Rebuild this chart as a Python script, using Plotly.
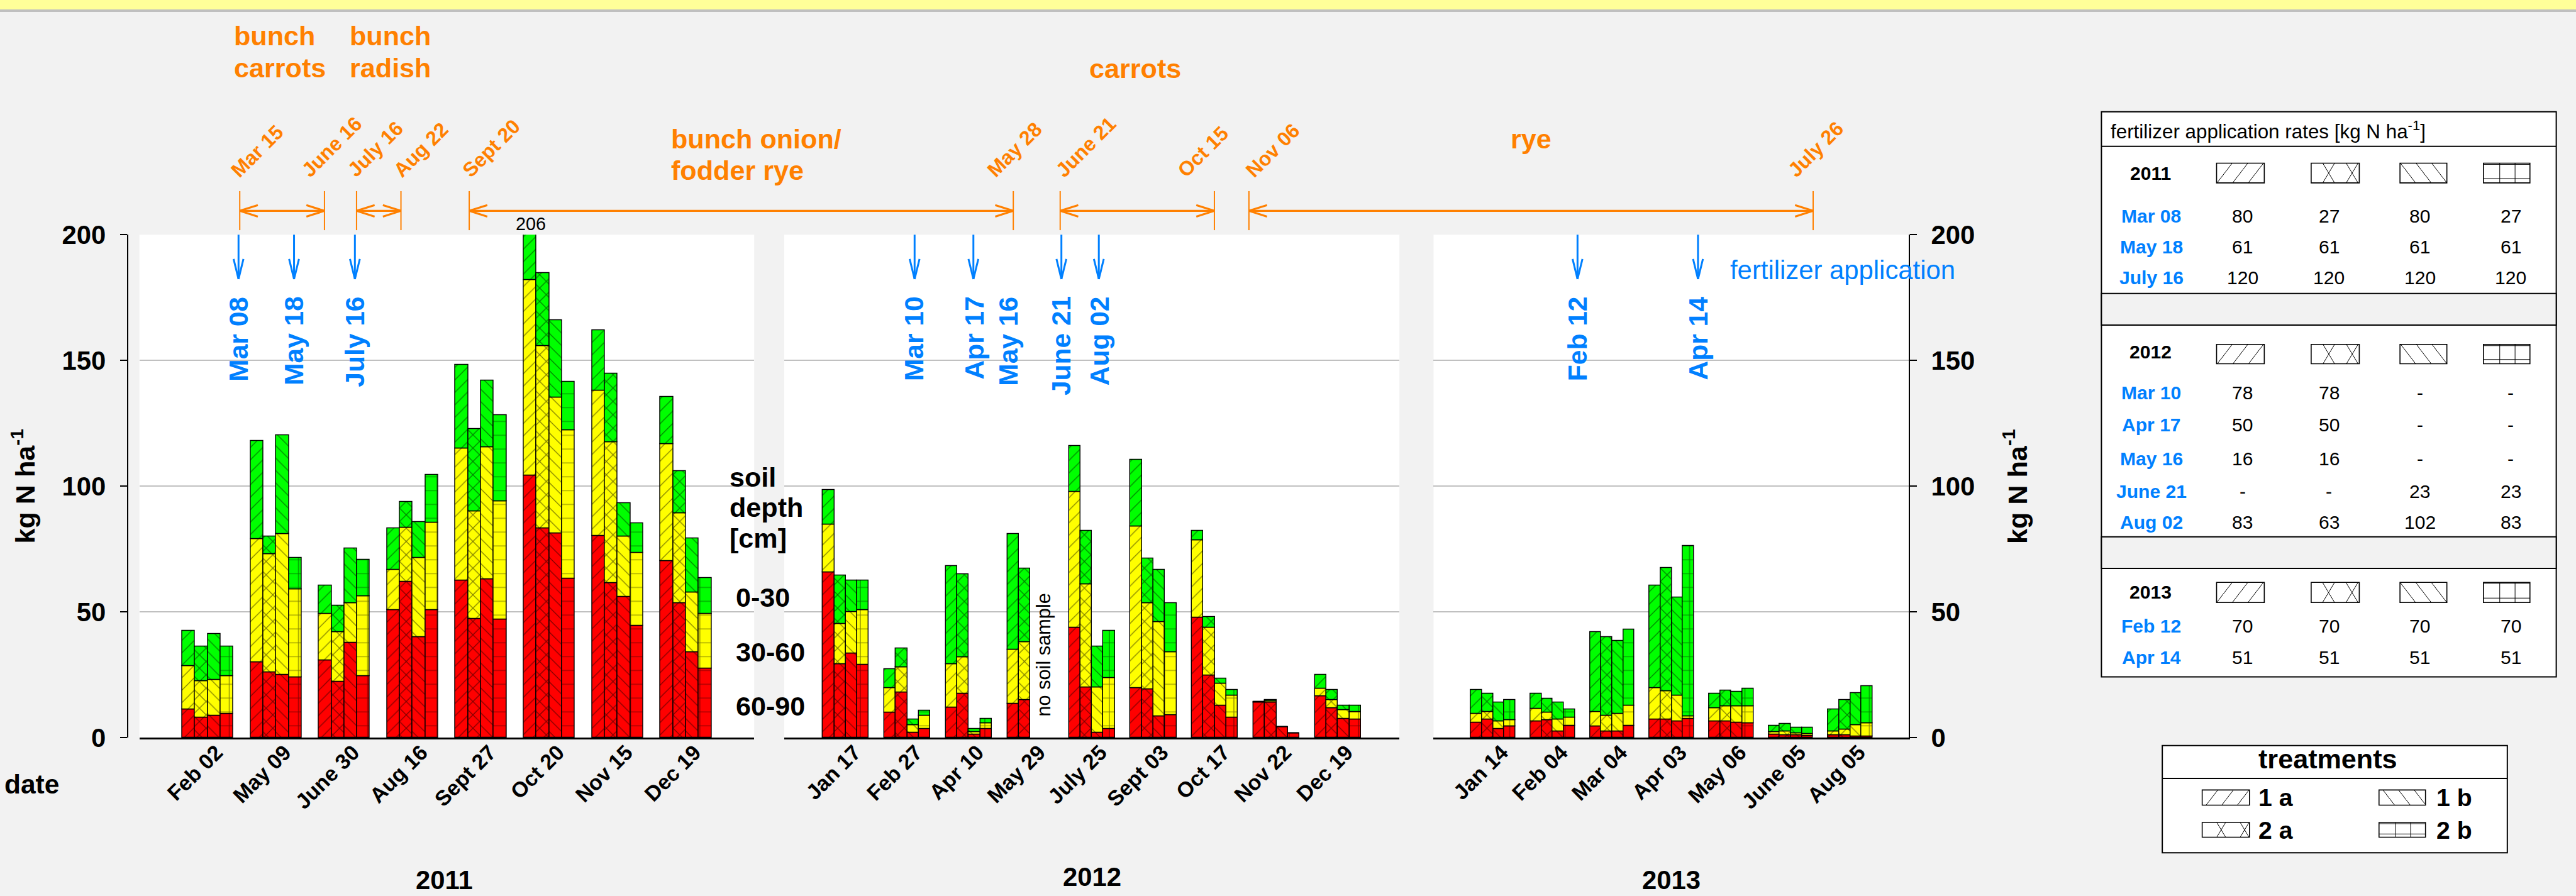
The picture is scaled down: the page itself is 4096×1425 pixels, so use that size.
import plotly.graph_objects as go

# ---------------- geometry helpers (reference pixel space -> paper) ----------------
W, H = 6264, 2180
S = 4096 / W
FONT = "Liberation Sans, Arial, sans-serif"


def X(v):
    return v / W


def Y(v):
    return 1 - v / H


def F(v):
    return v * S


# ---------------- data ----------------
treatments = ["1 a", "2 a", "1 b", "2 b"]
patterns = ["/", "x", "\\", "+"]
layer_names = ["60-90 cm", "30-60 cm", "0-30 cm"]
layer_colors = ["#ff0000", "#ffff00", "#00ff00"]

dates_2011 = ["Feb 02", "May 09", "June 30", "Aug 16", "Sept 27", "Oct 20", "Nov 15", "Dec 19"]
# rows: 1 a, 2 a, 1 b, 2 b
red_2011 = [
    [11.2, 29.9, 30.7, 50.7, 62.6, 104.2, 80.3, 70.2],
    [8.0, 26.0, 22.3, 62.0, 47.3, 83.2, 61.6, 53.6],
    [8.8, 25.1, 37.7, 40.0, 62.9, 81.3, 55.9, 34.0],
    [9.5, 24.1, 24.4, 50.7, 47.0, 63.2, 44.5, 27.4],
]
yellow_2011 = [
    [17.3, 49.2, 18.5, 16.0, 52.4, 77.8, 57.7, 46.6],
    [14.6, 47.0, 19.6, 21.5, 42.6, 72.6, 55.9, 35.7],
    [14.1, 55.9, 15.9, 31.5, 52.6, 53.9, 24.1, 23.7],
    [14.9, 35.0, 31.8, 34.7, 47.0, 59.0, 29.1, 21.9],
]
green_2011 = [
    [14.1, 38.9, 11.4, 16.5, 33.3, 24.0, 24.0, 18.8],
    [13.6, 7.0, 10.7, 10.2, 32.9, 28.9, 27.2, 16.7],
    [18.3, 39.3, 21.6, 14.2, 26.5, 30.8, 13.3, 21.6],
    [11.8, 12.4, 14.6, 19.0, 34.3, 19.3, 11.7, 14.3],
]

dates_2012 = ["Jan 17", "Feb 27", "Apr 10", "May 29", "July 25", "Sept 03", "Oct 17", "Nov 22", "Dec 19"]
red_2012 = [
    [65.7, 9.9, 12.0, 13.6, 43.8, 19.7, 47.7, 14.0, 16.6],
    [29.2, 18.0, 17.5, 15.0, 20.0, 19.3, 24.8, 13.9, 11.7],
    [33.6, 1.9, 1.2, None, 1.9, 8.5, 12.8, 4.2, 7.6],
    [28.9, 3.6, 3.6, None, 3.4, 9.1, 8.0, 1.8, 7.3],
]
yellow_2012 = [
    [19.1, 9.8, 17.2, 21.3, 54.0, 64.2, 30.8, 0.2, 3.0],
    [16.1, 10.0, 14.6, 23.0, 40.9, 34.3, 19.0, 0.7, 3.3],
    [16.3, 3.2, 1.0, None, 18.1, 37.5, 8.7, 0.0, 3.3],
    [21.9, 5.2, 2.2, None, 20.4, 24.9, 8.8, 0.0, 2.9],
]
green_2012 = [
    [13.7, 7.6, 39.0, 46.0, 18.1, 26.5, 3.7, 0.0, 5.4],
    [19.2, 7.5, 32.9, 29.2, 21.3, 17.6, 4.1, 0.4, 4.0],
    [12.6, 2.2, 1.2, None, 16.2, 20.7, 1.9, 0.0, 1.9],
    [11.7, 1.9, 1.8, None, 18.8, 19.6, 2.2, 0.0, 2.6],
]

dates_2013 = ["Jan 14", "Feb 04", "Mar 04", "Apr 03", "May 06", "June 05", "Aug 05"]
red_2013 = [
    [6.1, 6.6, 4.4, 7.3, 6.6, 1.2, 0.9],
    [7.3, 7.0, 2.6, 7.3, 6.6, 1.0, 0.9],
    [3.6, 2.6, 2.5, 6.6, 6.1, 0.9, 0.6],
    [4.4, 4.7, 4.7, 7.6, 5.8, 0.7, 0.6],
]
yellow_2013 = [
    [3.4, 4.8, 5.8, 12.4, 5.1, 1.0, 1.7],
    [2.9, 2.9, 6.2, 11.2, 5.8, 1.6, 2.3],
    [3.0, 4.7, 7.0, 10.2, 6.3, 0.9, 4.5],
    [2.6, 3.3, 8.0, 0.8, 6.6, 0.8, 5.2],
]
green_2013 = [
    [9.5, 6.1, 31.8, 40.9, 5.8, 2.5, 8.6],
    [7.3, 5.7, 31.1, 49.1, 6.3, 2.9, 11.7],
    [7.3, 6.6, 29.0, 39.0, 5.8, 2.1, 12.7],
    [7.9, 3.2, 30.4, 67.8, 7.2, 2.4, 14.6],
]

# fertilizer application table
fert_years = ["2011", "2012", "2013"]
fert_dates_2011 = ["Mar 08", "May 18", "July 16"]
fert_rates_2011 = [["80", "27", "80", "27"], ["61", "61", "61", "61"], ["120", "120", "120", "120"]]
fert_dates_2012 = ["Mar 10", "Apr 17", "May 16", "June 21", "Aug 02"]
fert_rates_2012 = [["78", "78", "-", "-"], ["50", "50", "-", "-"], ["16", "16", "-", "-"],
                   ["-", "-", "23", "23"], ["83", "63", "102", "83"]]
fert_dates_2013 = ["Feb 12", "Apr 14"]
fert_rates_2013 = [["70", "70", "70", "70"], ["51", "51", "51", "51"]]

# crop calendar labels
crop_dates = ["Mar 15", "June 16", "July 16", "Aug 22", "Sept 20", "May 28", "June 21", "Oct 15", "Nov 06", "July 26"]
crop_names = [["bunch", "carrots"], ["bunch", "radish"], ["bunch onion/", "fodder rye"], ["carrots"], ["rye"]]

# ---------------- figure ----------------
fig = go.Figure()

BW = 0.187
panels = [
    (dates_2011, red_2011, yellow_2011, green_2011, "x", "y"),
    (dates_2012, red_2012, yellow_2012, green_2012, "x2", "y2"),
    (dates_2013, red_2013, yellow_2013, green_2013, "x3", "y3"),
]

for dates, reds, yels, grns, xa, ya in panels:
    for t in range(4):
        layers = [reds[t], yels[t], grns[t]]
        base = [0.0] * len(dates)
        for li, vals in enumerate(layers):
            b = [None if v is None else bb for v, bb in zip(vals, base)]
            fig.add_trace(go.Bar(
                x=dates, y=vals, base=b, width=BW, offset=(t - 2) * BW,
                xaxis=xa, yaxis=ya, showlegend=False,
                name=f"{treatments[t]} {layer_names[li]}",
                marker=dict(
                    color=layer_colors[li],
                    line=dict(color="black", width=1.4),
                    pattern=dict(shape=patterns[t], fgcolor="black", bgcolor=layer_colors[li],
                                 size={"/": 14, "\\": 14, "x": 15, "+": 22}[patterns[t]],
                                 solidity={"/": 0.09, "\\": 0.09, "x": 0.17, "+": 0.11}[patterns[t]],
                                 fillmode="overlay"),
                ),
            ))
            base = [bb + (v or 0) for v, bb in zip(vals, base)]

xcommon = dict(type="category", showline=True, linecolor="black", linewidth=3, ticks="",
               tickangle=-45, showgrid=False, zeroline=False, automargin=False,
               ticklabelshift=14, ticklabelstandoff=-13,
               tickfont=dict(family=FONT, size=F(52), color="black", weight="bold"))
ycommon = dict(range=[0, 200], domain=[Y(1795), Y(571)], tickvals=[0, 50, 100, 150, 200],
               showgrid=True, gridcolor="#c0c0c0", gridwidth=2, zeroline=False, automargin=False,
               tickfont=dict(family=FONT, size=F(64), color="black", weight="bold"))

fig.update_layout(
    width=4096, height=1425,
    margin=dict(l=0, r=0, t=0, b=0, pad=0, autoexpand=False),
    paper_bgcolor="#f2f2f2", plot_bgcolor="white",
    barmode="overlay", bargap=0,
    font=dict(family=FONT, color="black"),
    xaxis=dict(domain=[X(339), X(1834)], range=[-1, 8], categoryarray=dates_2011, anchor="y", **xcommon),
    xaxis2=dict(domain=[X(1907), X(3403)], range=[-1, 9], categoryarray=dates_2012, anchor="y2", **xcommon),
    xaxis3=dict(domain=[X(3486), X(4644)], range=[-1, 7], categoryarray=dates_2013, anchor="y3", **xcommon),
    yaxis=dict(anchor="free", position=X(310), showline=True, linecolor="black", linewidth=2,
               ticks="outside", ticklen=F(17), tickwidth=2, tickcolor="black", ticklabelstandoff=14,
               **ycommon),
    yaxis2=dict(anchor="x2", showticklabels=False, ticks="", **ycommon),
    yaxis3=dict(anchor="free", position=X(4643), side="right", showline=True, linecolor="black", linewidth=2,
                ticks="outside", ticklen=F(17), tickwidth=2, tickcolor="black", ticklabelstandoff=14,
                **ycommon),
)

shapes = []
annotations = []


def line(x0, y0, x1, y1, color="black", width=2):
    shapes.append(dict(type="line", xref="paper", yref="paper", x0=X(x0), y0=Y(y0), x1=X(x1), y1=Y(y1),
                       line=dict(color=color, width=width)))


def rect(x0, y0, x1, y1, fill, lc="black", lw=2):
    shapes.append(dict(type="rect", xref="paper", yref="paper", x0=X(x0), y0=Y(y0), x1=X(x1), y1=Y(y1),
                       fillcolor=fill, line=dict(color=lc, width=lw)))


def text(s, x, y, size, color="black", bold=False, xa="center", ya="middle", angle=0):
    if bold:
        s = f"<b>{s}</b>"
    annotations.append(dict(text=s, x=X(x), y=Y(y), xref="paper", yref="paper", showarrow=False,
                            xanchor=xa, yanchor=ya, textangle=angle,
                            font=dict(family=FONT, size=F(size), color=color)))


def hatch(x0, y0, x1, y1, kind):
    rect(x0, y0, x1, y1, "white", lw=1.6)
    h = y1 - y0

    def diag(sp, m, down):
        c = x0 - h * m
        while c < x1:
            t0 = max(0.0, (x0 - c) / (h * m))
            t1 = min(1.0, (x1 - c) / (h * m))
            if t1 > t0:
                if down:
                    line(c + t0 * h * m, y0 + t0 * h, c + t1 * h * m, y0 + t1 * h, width=1)
                else:
                    line(c + t0 * h * m, y1 - t0 * h, c + t1 * h * m, y1 - t1 * h, width=1)
            c += sp

    if kind == "/":
        diag(38, 0.77, False)
    elif kind == "\\":
        diag(38, 0.77, True)
    elif kind == "x":
        diag(57, 0.6, False)
        diag(57, 0.6, True)
    elif kind == "+":
        for f in (0.35, 0.68):
            line(x0 + f * (x1 - x0), y0, x0 + f * (x1 - x0), y1, width=1)
        line(x0, y0 + 0.78 * h, x1, y0 + 0.78 * h, width=1)
        line(x0, y0 + 3, x1, y0 + 3, width=1)


# top band
rect(0, 0, W, 23, "#ffff99", lc="#ffff99", lw=0)
rect(0, 23, W, 29, "#c0c0c0", lc="#c0c0c0", lw=0)

# crop calendar (orange)
OR = "#ff8000"
crop_line_x = [583, 789, 867, 975, 1141, 2464, 2578, 2953, 3037, 4409]
crop_label_cx = [626, 806, 913, 1024, 1194, 2467, 2640, 2926, 3095, 4416]
for lx, cx, lab in zip(crop_line_x, crop_label_cx, crop_dates):
    line(lx, 465, lx, 560, OR, 2)
    text(lab, cx, 446, 49, OR, bold=True, ya="bottom", angle=-45)
for a, b in [(0, 1), (2, 3), (4, 5), (6, 7), (8, 9)]:
    xa_, xb_ = crop_line_x[a], crop_line_x[b]
    line(xa_, 513, xb_, 513, OR, 3.2)
    line(xa_ + 44, 499, xa_, 513, OR, 3.2)
    line(xa_ + 44, 527, xa_, 513, OR, 3.2)
    line(xb_ - 44, 499, xb_, 513, OR, 3.2)
    line(xb_ - 44, 527, xb_, 513, OR, 3.2)

crop_pos = [(566, [87, 165]), (847, [87, 165]), (1628, [338, 414]), (2645, [166]), (3671, [338])]
for (lx, ys), names in zip(crop_pos, crop_names):
    for yy, nm in zip(ys, names):
        text(nm, lx, yy, 66, OR, bold=True, xa="left")

# fertilizer arrows (blue)
BL = "#0080ff"
fert_arrow_x = [580, 715, 863, 2224, 2367, 2581, 2672, 3836, 4129]
for ax_ in fert_arrow_x:
    line(ax_, 571, ax_, 679, BL, 3)
    line(ax_ - 12, 630, ax_, 679, BL, 3)
    line(ax_ + 12, 630, ax_, 679, BL, 3)
fert_label_x = [581, 715, 863, 2224, 2369, 2452, 2581, 2673, 3836, 4130]
for lx, lab in zip(fert_label_x, fert_dates_2011 + fert_dates_2012 + fert_dates_2013):
    text(lab, lx, 718, 65, BL, bold=True, ya="top", angle=-90)
text("fertilizer application", 4204, 657, 64, BL, xa="left")

# misc labels
text("206", 1291, 545, 44)
text("soil", 1771, 1161, 66, bold=True, xa="left")
text("depth", 1771, 1235, 66, bold=True, xa="left")
text("[cm]", 1771, 1310, 66, bold=True, xa="left")
text("0-30", 1786, 1453, 66, bold=True, xa="left")
text("30-60", 1786, 1587, 66, bold=True, xa="left")
text("60-90", 1786, 1718, 66, bold=True, xa="left")
text("no soil sample", 2538, 1594, 47, angle=-90)
text("date", 8, 1908, 65, bold=True, xa="left")
text("2011", 1081, 2141, 64, bold=True)
text("2012", 2655, 2133, 64, bold=True)
text("2013", 4064, 2141, 64, bold=True)
text("kg N ha<sup>-1</sup>", 57, 1183, 66, bold=True, angle=-90)
text("kg N ha<sup>-1</sup>", 4901, 1183, 66, bold=True, angle=-90)

# fertilizer table
TX0, TX1 = 5110, 6216
rect(TX0, 272, TX1, 1647, "white", lw=2)
line(TX0, 356, TX1, 356, width=2)
rect(TX0, 714, TX1, 791, "#f2f2f2", lw=2)
rect(TX0, 1306, TX1, 1383, "#f2f2f2", lw=2)
text("fertilizer application rates [kg N ha<sup>-1</sup>]", 5130, 316, 48, xa="left")
swatch_x = [(5390, 5506), (5620, 5737), (5836, 5950), (6039, 6152)]
val_cx = [5453, 5663, 5884, 6105]
sections = [
    (fert_years[0], 422, (397, 445), fert_dates_2011, fert_rates_2011, [525, 600, 676]),
    (fert_years[1], 856, (838, 885), fert_dates_2012, fert_rates_2012, [956, 1033, 1116, 1195, 1271]),
    (fert_years[2], 1441, (1417, 1466), fert_dates_2013, fert_rates_2013, [1523, 1600]),
]
for yr, yy, (sy0, sy1), dts, rates, rows_y in sections:
    text(yr, 5230, yy, 46, bold=True)
    for (sx0, sx1), k in zip(swatch_x, patterns):
        hatch(sx0, sy0, sx1, sy1, k)
    for d, rr, ry in zip(dts, rates, rows_y):
        text(d, 5231, ry, 46, BL, bold=True)
        for cx, v in zip(val_cx, rr):
            text(v, cx, ry, 46)

# treatments legend
rect(5258, 1814, 6097, 2075, "white", lw=2)
line(5258, 1894, 6097, 1894, width=2)
text("treatments", 5661, 1847, 66, bold=True)
leg_pos = [(5355, 5470, 1922, 1959, 5488), (5355, 5470, 2001, 2037, 5488),
           (5785, 5898, 1922, 1959, 5921), (5785, 5898, 2001, 2037, 5921)]
for (x0, x1, y0, y1, tx), k, nm in zip(leg_pos, patterns, treatments):
    hatch(x0, y0, x1, y1, k)
    text(nm, tx, (y0 + y1) / 2, 60, bold=True, xa="left")

fig.update_layout(shapes=shapes, annotations=annotations)
fig.write_html("out.html", config={"displayModeBar": False},
               post_script="document.body.style.margin='0';")
